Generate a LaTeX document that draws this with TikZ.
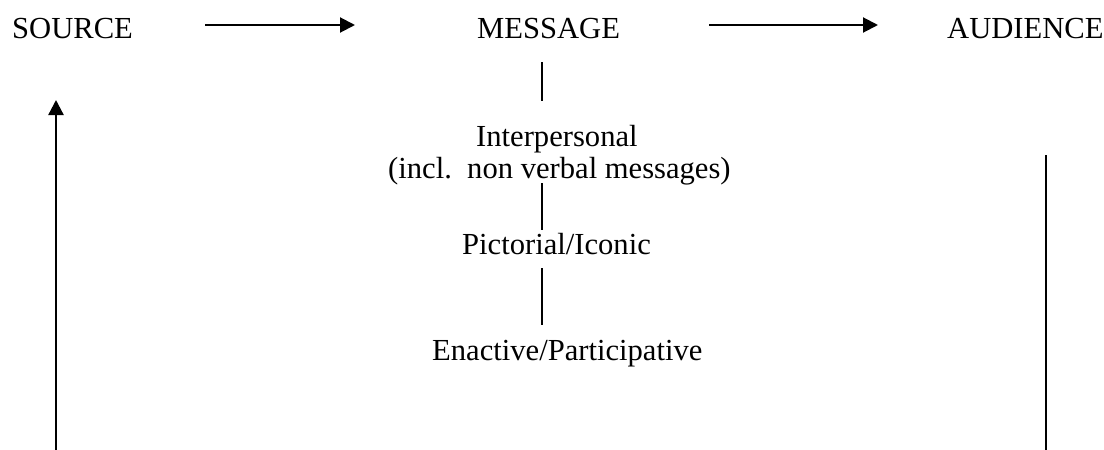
\documentclass[tikz,border=0pt]{standalone}
\usepackage{fontspec}
\setmainfont{Liberation Serif}
\usetikzlibrary{arrows.meta}
\begin{document}
\begin{tikzpicture}[x=1pt,y=-1pt,
  lbl/.style={anchor=base west,inner sep=0pt,font=\fontsize{30.6}{34}\selectfont},
  arr/.style={line width=2pt,-{Triangle[length=15pt,width=15pt]}},
  thin link/.style={line width=1.4pt},
  side/.style={line width=2.3pt}]
  \useasboundingbox (0,0) rectangle (1104,450);

  % top row
  \node[lbl] (src) at (12,38) {SOURCE};
  \node[lbl] (msg) at (477,38) {MESSAGE};
  \node[lbl] (aud) at (947,38) {AUDIENCE};

  % message types
  \node[lbl] (inter) at (476,146) {Interpersonal};
  \node[lbl] (incl) at (388,178) {(incl.\ \ non verbal messages)};
  \node[lbl] (pict) at (462,254) {Pictorial/Iconic};
  \node[lbl] (enact) at (432,360) {Enactive/Participative};

  % connector ends
  \coordinate (a1s) at (205,25);
  \coordinate (a1e) at (355,25);
  \coordinate (a2s) at (709,25);
  \coordinate (a2e) at (878,25);
  \coordinate (v1s) at (542,62);
  \coordinate (v1e) at (542,101);
  \coordinate (v2s) at (542,183);
  \coordinate (v2e) at (542,230);
  \coordinate (v3s) at (542,268);
  \coordinate (v3e) at (542,325);
  \coordinate (fbs) at (56,450);
  \coordinate (fbe) at (56,100);
  \coordinate (rs) at (1046,155);
  \coordinate (re) at (1046,450);

  \draw[arr] (a1s) -- (a1e);
  \draw[arr] (a2s) -- (a2e);
  \draw[thin link] (v1s) -- (v1e);
  \draw[thin link] (v2s) -- (v2e);
  \draw[thin link] (v3s) -- (v3e);
  \draw[arr,line width=2.3pt] (fbs) -- (fbe);
  \draw[side] (rs) -- (re);
\end{tikzpicture}
\end{document}
